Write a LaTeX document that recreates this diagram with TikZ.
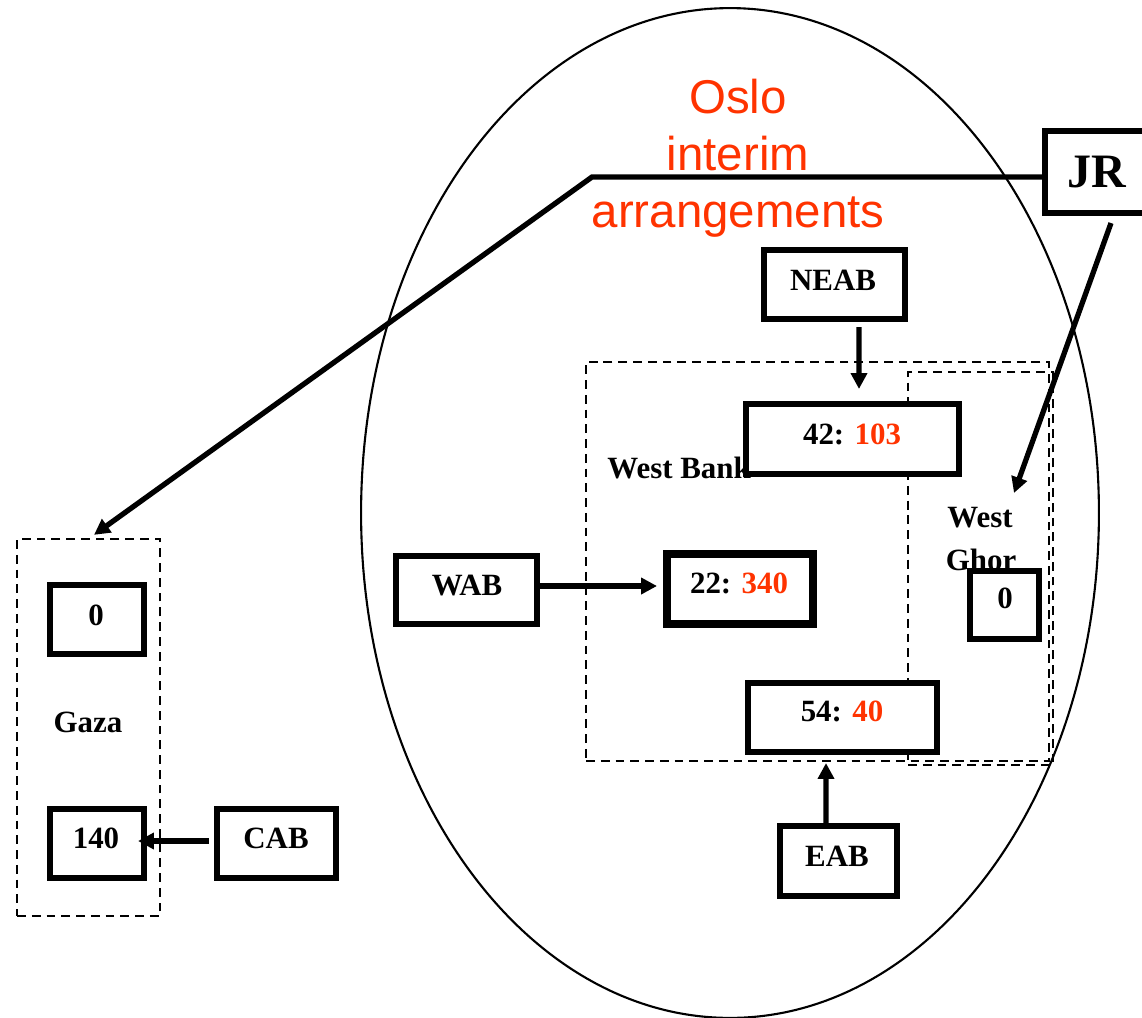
\documentclass[tikz,border=0pt]{standalone}
\usepackage{fontspec}
\setmainfont{Liberation Serif}
\newfontfamily\oslofont{Liberation Sans}
\usetikzlibrary{arrows.meta,fit}
\definecolor{oslored}{RGB}{255,51,0}
\tikzset{
  box/.style={draw, line width=2.9pt, fill=white, inner sep=0pt},
  heavybox/.style={box, line width=4pt},
  zone/.style={draw, line width=1.3pt, dash pattern=on 5pt off 3.4pt, inner sep=0pt},
  conn/.style={line width=3pt, -{Triangle[length=9pt,width=9pt]}},
  lbl/.style={font=\fontsize{17.6}{20}\selectfont\bfseries, anchor=base, inner sep=0pt},
  big/.style={lbl, font=\fontsize{27.3}{30}\selectfont\bfseries},
  oslo/.style={text=oslored, font=\oslofont\fontsize{27}{32}\selectfont, anchor=base, inner sep=0pt},
}
\begin{document}
\begin{tikzpicture}[x=0.02cm, y=-0.02cm]
\useasboundingbox (0,0) rectangle (1142,1017);
\clip (0,0) rectangle (1142,1017);

% the interim-arrangements area
\draw[line width=1.2pt] (730,513) ellipse [x radius=7.38cm, y radius=10.1cm];
\node[oslo] (oslo1) at (738,113) {Oslo};
\node[oslo] (oslo2) at (738,170) {interim};
\node[oslo] (oslo3) at (738,227) {arrangements};

% regions
\node[zone, fit={(586,362) (1049,761)}] (wb) {};
\node[zone, fit={(908,372) (1053,765)}] (wg) {};
\node[zone, fit={(17,539) (160,916)}] (gaza) {};
\node[lbl, anchor=base west] (wbname) at (607,478) {West Bank};
\node[lbl] (wgname1) at (980,527) {West};
\node[lbl] (wgname2) at (981,570) {Ghor};
\node[lbl] (gazaname) at (88,732) {Gaza};

% boxes
\node[box, fit={(1045,131) (1170,213)}] (jr) {};
\node[box, fit={(764,250) (905,319)}] (neab) {};
\node[box, fit={(746,404) (959,474)}] (n42) {};
\node[heavybox, fit={(667,554) (813,624)}] (n22) {};
\node[box, fit={(396,556) (537,624)}] (wab) {};
\node[box, fit={(970,571) (1039,639)}] (wg0) {};
\node[box, fit={(748,683) (937,752)}] (n54) {};
\node[box, fit={(780,826) (897,896)}] (eab) {};
\node[box, fit={(50,585) (144,654)}] (gz0) {};
\node[box, fit={(50,809) (144,878)}] (gz140) {};
\node[box, fit={(217,809) (336,878)}] (cab) {};

% box texts
\node[big] (tjr) at (1097,187) {JR};
\node[lbl] (tneab) at (833,290) {NEAB};
\node[lbl] (t42) at (852,444) {42: \textcolor{oslored}{103}};
\node[lbl] (t22) at (739,593) {22: \textcolor{oslored}{340}};
\node[lbl] (twab) at (467,595) {WAB};
\node[lbl] (twg0) at (1005,608) {0};
\node[lbl] (t54) at (842,721) {54: \textcolor{oslored}{40}};
\node[lbl] (teab) at (837,866) {EAB};
\node[lbl] (tgz0) at (96,625) {0};
\node[lbl] (tgz140) at (96,848) {140};
\node[lbl] (tcab) at (276,848) {CAB};

% connectors
\coordinate (bend) at (592,177);
\coordinate (wgtip) at (1014,493);
\draw[conn] ([yshift=-0.1cm]jr.west) -- (bend) -- ([xshift=0.11cm,yshift=0.06cm]gaza.north);
\draw[conn] ([xshift=0.07cm,yshift=-0.15cm]jr.south) -- (wgtip);
\draw[conn] ([xshift=0.49cm,yshift=-0.11cm]neab.south) -- ([xshift=0.13cm,yshift=0.25cm]n42.north);
\draw[conn] ([yshift=0.08cm]wab.east) -- ([yshift=0.06cm,xshift=-0.13cm]n22.west);
\draw[conn] ([xshift=-0.25cm]eab.north) -- ([xshift=-0.33cm,yshift=-0.17cm]n54.south);
\draw[conn] ([xshift=-0.11cm,yshift=0.05cm]cab.west) -- ([xshift=-0.17cm,yshift=0.05cm]gz140.east);
\end{tikzpicture}
\end{document}
